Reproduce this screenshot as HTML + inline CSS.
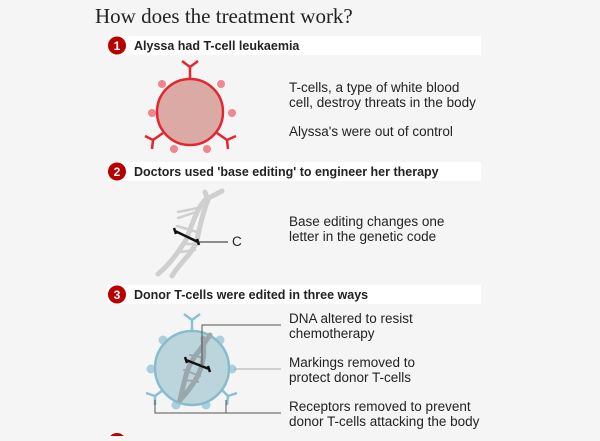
<!DOCTYPE html>
<html><head><meta charset="utf-8"><style>
body{margin:0;background:#f5f5f5;width:600px;height:436px;overflow:hidden;font-family:"Liberation Sans",sans-serif}
</style></head><body>
<svg width="600" height="436" viewBox="0 0 600 436" xmlns="http://www.w3.org/2000/svg" font-family="Liberation Sans, sans-serif">
<rect width="600" height="436" fill="#f5f5f5"/>
<text x="95" y="23" font-family="Liberation Serif, serif" font-size="21" fill="#222">How does the treatment work?</text>

<!-- bars -->
<rect x="108" y="36" width="373" height="19" fill="#fff"/>
<circle cx="117" cy="45.5" r="9" fill="#b80000"/><text x="117" y="50" font-size="12" font-weight="bold" fill="#fff" text-anchor="middle">1</text>
<text x="134" y="50" font-size="12.5" font-weight="bold" fill="#222">Alyssa had T-cell leukaemia</text>

<rect x="108" y="162" width="373" height="19" fill="#fff"/>
<circle cx="117" cy="171.5" r="9" fill="#b80000"/><text x="117" y="176" font-size="12" font-weight="bold" fill="#fff" text-anchor="middle">2</text>
<text x="134" y="176" font-size="12.5" font-weight="bold" fill="#222">Doctors used 'base editing' to engineer her therapy</text>

<rect x="108" y="285" width="373" height="19" fill="#fff"/>
<circle cx="117" cy="294.5" r="9" fill="#b80000"/><text x="117" y="299" font-size="12" font-weight="bold" fill="#fff" text-anchor="middle">3</text>
<text x="134" y="299" font-size="12.5" font-weight="bold" fill="#222">Donor T-cells were edited in three ways</text>

<circle cx="117" cy="442" r="9" fill="#b80000"/>

<!-- cell 1 -->
<g fill="#f0868e">
<circle cx="162" cy="84" r="4"/><circle cx="221" cy="84" r="4"/>
<circle cx="152" cy="113" r="4"/><circle cx="232" cy="113" r="4"/>
<circle cx="174" cy="149" r="4"/><circle cx="207" cy="149" r="4"/>
</g>
<g stroke="#e3262f" stroke-width="2.5" fill="none">
<path d="M190 78 V67 M190 67 L182 61 M190 67 L198 61"/>
<path d="M163 133 L153 140 M153 140 L145 136 M153 140 L152 149"/>
<path d="M217 133 L227 140 M227 140 L236 136 M227 140 L228 149"/>
</g>
<circle cx="190" cy="112" r="33" fill="#dcaaa4" stroke="#e3262f" stroke-width="2.5"/>
<text font-size="13.5" fill="#222"><tspan x="289" y="92">T-cells, a type of white blood</tspan><tspan x="289" y="107">cell, destroy threats in the body</tspan><tspan x="289" y="136">Alyssa's were out of control</tspan></text>

<!-- DNA 2 -->
<g stroke="#cfcfcf" stroke-width="5" fill="none" stroke-linecap="round">
<path d="M158 274 C172 262 178 252 186 240 C192 225 197 208 205 200 L222 191"/>
<path d="M172 276 C180 262 192 255 197 240 C200 225 203 212 208 200 L205 192"/>
<path d="M178 218 L196 212 M177 226 L197 232 M180 252 L195 250 M184 244 L198 244 M178 212 L198 208" stroke-width="2.5"/>
</g>
<path d="M175 231 L198 242 M174 228 L176 234 M197 239 L199 245" stroke="#111" stroke-width="2.5"/>
<path d="M198 242 H228" stroke="#222" stroke-width="1"/>
<text x="232" y="246" font-size="13.5" fill="#222">C</text>
<text font-size="13.5" fill="#222"><tspan x="289" y="226">Base editing changes one</tspan><tspan x="289" y="241">letter in the genetic code</tspan></text>

<!-- cell 3 -->
<g fill="#a9d0dc">
<circle cx="163" cy="340" r="4.5"/><circle cx="220" cy="340" r="4.5"/>
<circle cx="151" cy="369" r="4.5"/><circle cx="232" cy="369" r="4.5"/>
<circle cx="176" cy="405" r="4.5"/><circle cx="206" cy="405" r="4.5"/>
</g>
<g stroke="#8ebfcf" stroke-width="2.5" fill="none">
<path d="M192 331 V320 M192 320 L184 314 M192 320 L200 314"/>
<path d="M163 390 L155 396 M155 396 L146 393 M155 396 L155 405"/>
<path d="M222 390 L228 396 M228 396 L237 393 M228 396 L227 405"/>
</g>
<circle cx="192" cy="368" r="37" fill="#bcd4dc" stroke="#86bcce" stroke-width="2.5"/>
<g stroke="#9aa8ad" stroke-width="5" fill="none" stroke-linecap="round">
<path d="M180 400 C185 380 186 365 200 350 C205 342 208 338 210 335"/>
<path d="M203 338 C206 360 200 375 190 388 C185 395 182 398 180 400"/>
<path d="M184 370 L200 376 M186 380 L198 382 M190 355 L205 358" stroke-width="2"/>
</g>
<path d="M186 360 L209 369 M185 357 L187 363 M208 366 L210 372" stroke="#111" stroke-width="2.5"/>
<path d="M202 366 V325 H281" stroke="#555" stroke-width="1" fill="none"/>
<path d="M234 369 H281" stroke="#aaa" stroke-width="1"/>
<path d="M155 400 V413 H281 M226 400 V413" stroke="#555" stroke-width="1" fill="none"/>
<text font-size="13.5" fill="#222"><tspan x="289" y="323">DNA altered to resist</tspan><tspan x="289" y="338">chemotherapy</tspan><tspan x="289" y="367">Markings removed to</tspan><tspan x="289" y="382">protect donor T-cells</tspan><tspan x="289" y="411">Receptors removed to prevent</tspan><tspan x="289" y="426">donor T-cells attacking the body</tspan></text>
</svg>
</body></html>
